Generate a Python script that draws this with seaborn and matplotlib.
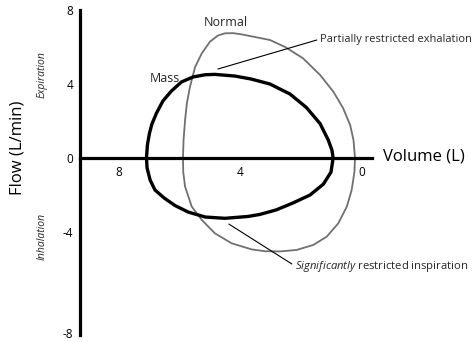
import numpy as np
import pandas as pd
import matplotlib
matplotlib.use("Agg")
import matplotlib.pyplot as plt
import seaborn as sns

# ---- data (Volume in L, Flow in L/min) ----
mass_volume = [7.09, 7.06, 6.99, 6.91, 6.76, 6.55, 6.27, 5.94, 5.56, 5.16, 4.84, 4.18, 3.65, 3.03, 2.37, 1.83,
               1.38, 1.11, 0.99, 0.95,
               1.02, 1.27, 1.71, 2.27, 2.83, 3.36, 3.75, 4.51, 5.16, 5.72, 6.15, 6.51, 6.81, 6.97, 7.07, 7.09]
mass_flow = [0.00, 0.70, 1.35, 1.84, 2.43, 3.08, 3.62, 4.11, 4.38, 4.50, 4.52, 4.43, 4.27, 4.00, 3.46, 2.73,
             1.86, 0.97, 0.43, 0.00,
             -0.76, -1.41, -2.00, -2.43, -2.81, -3.05, -3.16, -3.26, -3.19, -2.92, -2.57, -2.16, -1.73, -1.19, -0.54, 0.00]

normal_volume = [5.89, 5.87, 5.82, 5.76, 5.66, 5.49, 5.27, 5.00, 4.74, 4.51, 4.24, 3.95, 3.52, 3.03, 2.53, 1.94,
                 1.38, 0.94, 0.62, 0.39, 0.28, 0.23,
                 0.25, 0.34, 0.50, 0.78, 1.16, 1.60, 2.15, 2.70, 3.19, 3.63, 4.29, 4.84, 5.27, 5.60, 5.82, 5.88, 5.89]
normal_flow = [0.00, 0.97, 2.05, 2.97, 3.84, 4.92, 5.66, 6.29, 6.62, 6.74, 6.75, 6.68, 6.54, 6.38, 6.00, 5.39,
               4.49, 3.58, 2.69, 1.78, 0.97, 0.00,
               -0.76, -1.73, -2.63, -3.53, -4.25, -4.70, -4.97, -5.05, -5.04, -4.94, -4.61, -4.07, -3.35, -2.63, -1.55, -0.76, 0.00]

x_ticks = [8, 4, 0]
x_tick_labels = ["8", "4", "0"]
y_ticks = [8, 4, 0, -4, -8]
y_tick_labels = ["8", "4", "0", "-4", "-8"]

sns.set_theme(style="white")
plt.rcParams["font.family"] = ["Open Sans", "DejaVu Sans"]
plt.rcParams["mathtext.fontset"] = "custom"
plt.rcParams["mathtext.rm"] = "Open Sans"
plt.rcParams["mathtext.it"] = "Open Sans:italic"

# The schematic's flow axis is stretched below the loops (as drawn in the original)
BREAK = -5.1
STRETCH = 27.8 / 18.5


def fwd(y):
    y = np.asarray(y, dtype=float)
    return np.where(y >= BREAK, y, BREAK + (y - BREAK) * STRETCH)


def inv(y):
    y = np.asarray(y, dtype=float)
    return np.where(y >= BREAK, y, BREAK + (y - BREAK) / STRETCH)


fig = plt.figure(figsize=(4.72, 3.42), dpi=100)
ax = fig.add_axes([0, 0, 1, 1])
ax.set_yscale("function", functions=(fwd, inv))

mass_df = pd.DataFrame({"Volume": mass_volume, "Flow": mass_flow})
normal_df = pd.DataFrame({"Volume": normal_volume, "Flow": normal_flow})

sns.lineplot(data=normal_df, x="Volume", y="Flow", sort=False, estimator=None,
             color="#707070", linewidth=1.3, ax=ax, solid_joinstyle="round")
sns.lineplot(data=mass_df, x="Volume", y="Flow", sort=False, estimator=None,
             color="black", linewidth=2.4, ax=ax, solid_joinstyle="round")

ax.set_xlim(11.908, -3.618)
ax.set_ylim(float(inv(-9.946)), 8.541)

for s in ["top", "right"]:
    ax.spines[s].set_visible(False)
ax.spines["left"].set_position(("data", 9.276))
ax.spines["left"].set_bounds(float(inv(-9.57)), 8.0)
ax.spines["bottom"].set_position(("data", 0))
ax.spines["bottom"].set_bounds(-0.33, 9.276)
for s in ["left", "bottom"]:
    ax.spines[s].set_linewidth(2.3)
    ax.spines[s].set_color("black")

ax.set_xticks(x_ticks, labels=x_tick_labels)
ax.set_yticks(y_ticks, labels=y_tick_labels)
ax.yaxis.set_minor_locator(matplotlib.ticker.NullLocator())
ax.tick_params(axis="both", which="both", length=0, labelsize=8.5, colors="black")
ax.tick_params(axis="x", pad=6)
ax.tick_params(axis="y", pad=5)

ax.set_ylabel("Flow (L/min)", fontsize=12, color="black")
ax.yaxis.set_label_coords(0.055, 0.567)
ax.set_xlabel("Volume (L)", fontsize=12, color="black")
ax.xaxis.set_label_coords(0.898, 0.565)

ax.text(10.53, 4.49, "Expiration", rotation=90, style="italic", fontsize=7.5,
        ha="center", va="center")
ax.text(10.53, -4.22, "Inhalation", rotation=90, style="italic", fontsize=7.5,
        ha="center", va="center")

ax.text(4.47, 7.30, "Normal", fontsize=9, ha="center", va="center")
ax.text(6.48, 4.32, "Mass", fontsize=9, ha="center", va="center")

ax.annotate("Partially restricted exhalation", xy=(4.74, 4.81), xytext=(1.38, 6.43),
            fontsize=7.9, ha="left", va="center",
            arrowprops=dict(arrowstyle="-", color="black", lw=0.8, shrinkA=0, shrinkB=0,
                            relpos=(0, 0.5)))
ax.annotate(r"$\it{Significantly}$ restricted inspiration", xy=(4.38, -3.57), xytext=(2.20, float(inv(-5.84))),
            fontsize=8.1, ha="left", va="center",
            arrowprops=dict(arrowstyle="-", color="black", lw=0.8, shrinkA=0, shrinkB=0,
                            relpos=(0, 0.5)))

fig.savefig("out.png", dpi=100)
